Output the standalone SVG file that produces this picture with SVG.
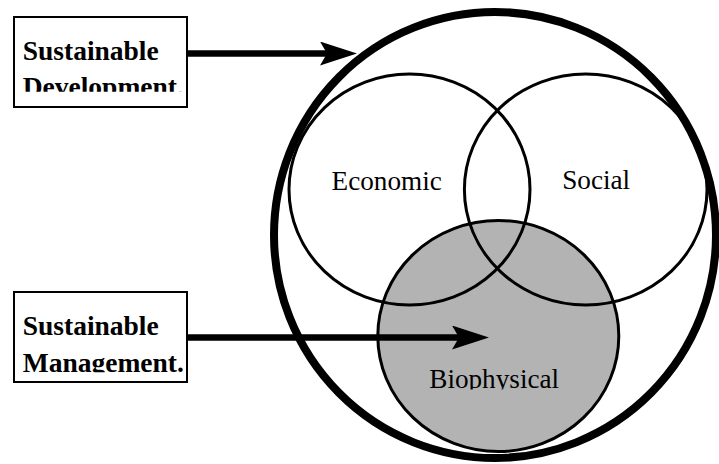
<svg xmlns="http://www.w3.org/2000/svg" width="719" height="464" viewBox="0 0 719 464">
  <style>
    .box { fill: #ffffff; stroke: #000000; stroke-width: 2; }
    .boxtext { font-family: "Liberation Serif", "Times New Roman", serif; font-weight: bold; font-size: 27.5px; fill: #000000; }
    .label { font-family: "Liberation Serif", "Times New Roman", serif; font-size: 27.2px; fill: #000000; text-anchor: middle; }
    .ring { fill: none; stroke: #000000; stroke-width: 3; }
    .conn { fill: none; stroke: #000000; stroke-width: 6.5; }
  </style>
  <defs>
    <marker id="head" markerUnits="userSpaceOnUse" viewBox="0 0 37 24" refX="7" refY="12" markerWidth="37" markerHeight="24" orient="auto">
      <path d="M0,0 L37,12 L0,24 L7,12 Z" fill="#000000"/>
    </marker>
    <clipPath id="c1"><rect x="0" y="30" width="200" height="30"/></clipPath>
    <clipPath id="c2"><rect x="0" y="70" width="200" height="21.8"/></clipPath>
    <clipPath id="c3"><rect x="0" y="305" width="200" height="30.2"/></clipPath>
    <clipPath id="c4"><rect x="0" y="345" width="200" height="27.3"/></clipPath>
    <clipPath id="c5"><rect x="400" y="360" width="200" height="29.5"/></clipPath>
  </defs>
  <rect x="0" y="0" width="719" height="464" fill="#ffffff"/>

  <g id="sustainable-development-circle">
    <ellipse cx="495" cy="235" rx="221" ry="223" fill="none" stroke="#000000" stroke-width="8"/>
  </g>
  <g id="biophysical">
    <ellipse cx="498.3" cy="336" rx="120.5" ry="115.5" fill="#b3b3b3" stroke="#000000" stroke-width="3"/>
    <text class="label" x="494.2" y="388.3" clip-path="url(#c5)">Biophysical</text>
  </g>
  <g id="economic">
    <ellipse class="ring" cx="409.5" cy="189.5" rx="120.5" ry="115.5"/>
    <text class="label" x="386.7" y="190">Economic</text>
  </g>
  <g id="social">
    <ellipse class="ring" cx="585.7" cy="189.5" rx="121.3" ry="115.5"/>
    <text class="label" x="596.2" y="189.3">Social</text>
  </g>

  <g id="box-sustainable-development">
    <rect class="box" x="14" y="17" width="173" height="90"/>
    <text class="boxtext" x="22.7" y="60" clip-path="url(#c1)">Sustainable</text>
    <text class="boxtext" x="22.7" y="96.2" clip-path="url(#c2)">Development.</text>
  </g>
  <g id="box-sustainable-management">
    <rect class="box" x="14" y="292" width="173" height="90"/>
    <text class="boxtext" x="22.7" y="335" clip-path="url(#c3)">Sustainable</text>
    <text class="boxtext" x="22.7" y="371.5" clip-path="url(#c4)">Management.</text>
  </g>

  <g id="connectors">
    <line class="conn" x1="188" y1="53.5" x2="327" y2="53.5" marker-end="url(#head)"/>
    <line class="conn" x1="188" y1="337.5" x2="459" y2="337.5" marker-end="url(#head)"/>
  </g>
</svg>
